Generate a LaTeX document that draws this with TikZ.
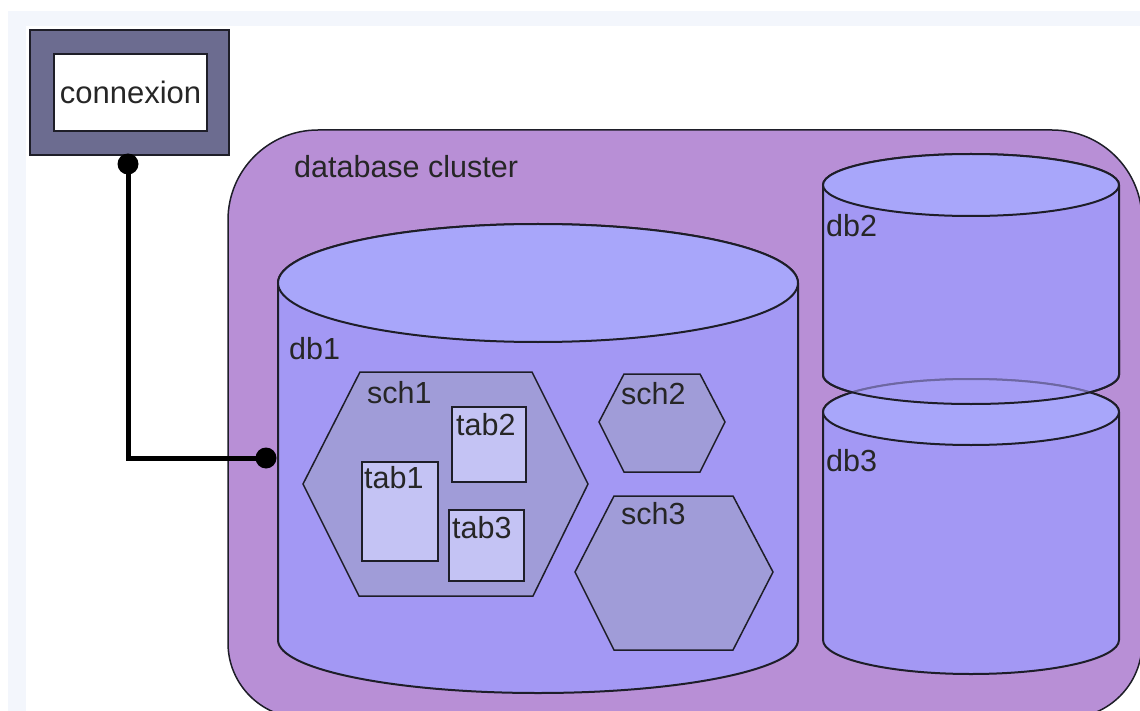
\documentclass[tikz,border=0pt]{standalone}
\usepackage{fontspec}
\setmainfont{Liberation Sans}
\definecolor{pagetint}{HTML}{F3F6FC}
\definecolor{clusterfill}{HTML}{B88FD6}
\definecolor{dbbody}{HTML}{A398F4}
\definecolor{dbtop}{HTML}{A8A6FA}
\definecolor{schfill}{HTML}{A09CD8}
\definecolor{tabfill}{HTML}{C4C3F4}
\definecolor{connframe}{HTML}{6C6C90}
\definecolor{edge}{HTML}{1E1E28}
\definecolor{ink}{HTML}{262626}
\tikzset{
  lbl/.style={inner sep=0pt, anchor=base west, text=ink, font=\fontsize{30.5}{36}\selectfont},
  cyl/.style={draw=edge, line width=2},
  schema/.style={draw=edge, line width=1.5, fill=schfill},
  tablebox/.style={draw=edge, line width=2, fill=tabfill},
  pin/.style={circle, fill=black, inner sep=0pt, minimum size=21},
  wire/.style={line width=5, draw=black},
}
\begin{document}
\begin{tikzpicture}[x=1pt, y=-1pt]
\useasboundingbox (0,0) rectangle (1140,711);
\clip (0,0) rectangle (1140,711);

% page background
\fill[white] (0,0) rectangle (1140,711);
\fill[pagetint] (8,11) rectangle (1140,711);
\fill[white] (26,26) rectangle (1140,711);

% database cluster
\path[fill=clusterfill, draw=edge, line width=1.5]
  (318,130) -- (1052,130) arc[start angle=270, end angle=360, radius=90]
  -- (1142,643) arc[start angle=0, end angle=90, radius=75]
  -- (303,718) arc[start angle=90, end angle=180, radius=75]
  -- (228,220) arc[start angle=180, end angle=270, radius=90] -- cycle;
\node[lbl] (cluster) at (294,178) {database cluster};

% db1
\path[cyl, fill=dbbody]
  (278,283) -- (278,640) arc[start angle=180, end angle=0, x radius=260, y radius=53]
  -- (798,283) arc[start angle=0, end angle=-180, x radius=260, y radius=59] -- cycle;
\path[cyl, fill=dbtop] (538,283) ellipse[x radius=260, y radius=59];
\node[lbl] (db1) at (289,359) {db1};

% schemas of db1
\path[schema] (360,372) -- (532,372) -- (588,484) -- (533,596) -- (359,596) -- (303,484) -- cycle;
\node[lbl] (sch1) at (367,403) {sch1};
\path[schema] (624,374) -- (700,374) -- (725,422) -- (700,472) -- (624,472) -- (599,422) -- cycle;
\node[lbl] (sch2) at (621,404) {sch2};
\path[schema] (614,496) -- (733,496) -- (773,572) -- (733,650) -- (614,650) -- (575,572) -- cycle;
\node[lbl] (sch3) at (621,524) {sch3};

% tables of sch1
\path[tablebox] (452,407) rectangle (526,482);
\node[lbl] (tab2) at (456,435) {tab2};
\path[tablebox] (362,462) rectangle (438,561);
\node[lbl] (tab1) at (364,488) {tab1};
\path[tablebox] (449,510) rectangle (524,581);
\node[lbl] (tab3) at (452,538) {tab3};

% db2
\path[cyl, fill=dbbody]
  (823,185) -- (823,375) arc[start angle=180, end angle=0, x radius=148, y radius=29]
  -- (1119,185) arc[start angle=0, end angle=-180, x radius=148, y radius=31] -- cycle;
\path[cyl, fill=dbtop] (971,185) ellipse[x radius=148, y radius=31];
\node[lbl] (db2) at (826,237) {db2};

% db3
\path[cyl, fill=dbbody]
  (823,412) -- (823,640) arc[start angle=180, end angle=0, x radius=148, y radius=34]
  -- (1119,412) arc[start angle=0, end angle=-180, x radius=148, y radius=33] -- cycle;
\path[cyl, fill=dbtop] (971,412) ellipse[x radius=148, y radius=33];
\node[lbl] (db3) at (826,471) {db3};

% lower part of db2 laid over the top of db3
\fill[dbbody, fill opacity=0.6]
  (823,340) -- (823,375) arc[start angle=180, end angle=0, x radius=148, y radius=29]
  -- (1119,340) -- cycle;
\draw[cyl] (823,340) -- (823,375) arc[start angle=180, end angle=0, x radius=148, y radius=29]
  -- (1119,340);

% connexion
\node[draw=edge, line width=2, fill=connframe, minimum width=199, minimum height=125, inner sep=0pt]
  (connbox) at (129.5,92.5) {};
\node[draw=edge, line width=2, fill=white, minimum width=153, minimum height=77, inner sep=0pt,
  text=ink, font=\fontsize{31}{36}\selectfont] (connexion) at (130.5,92.5) {connexion};

% link from connexion to db1
\node[pin] (pinTop) at (128,164) {};
\node[pin] (pinDb) at (266,458) {};
\draw[wire] (pinTop.center) |- (pinDb.center);
\end{tikzpicture}
\end{document}
